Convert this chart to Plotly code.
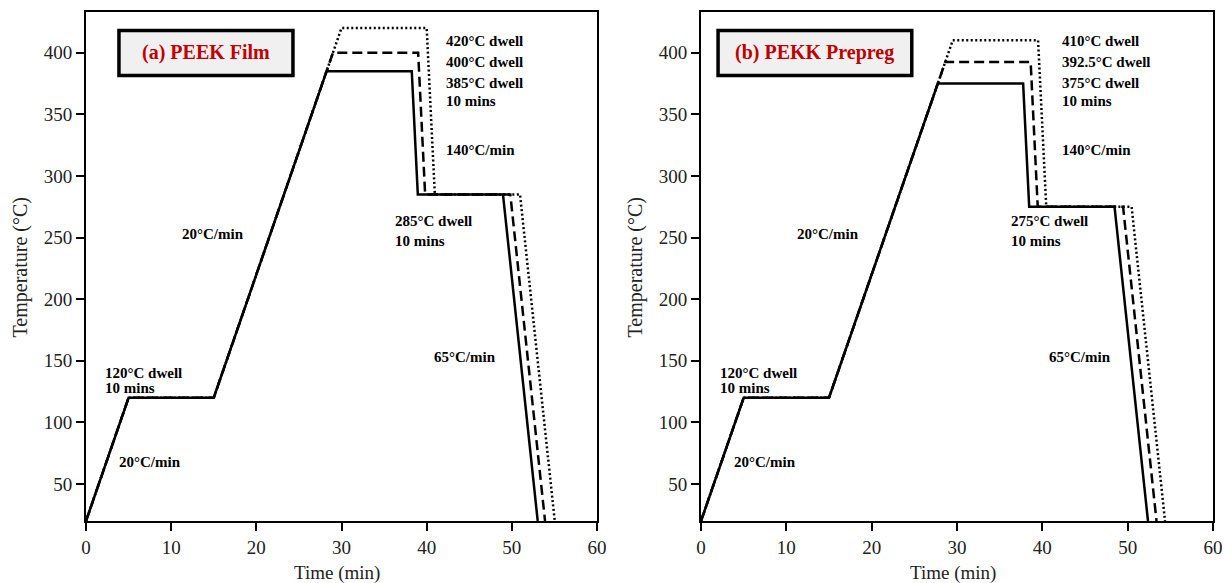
import plotly.graph_objects as go

# ---- Cure cycle profiles: time (min) and temperature (°C) breakpoints ----
# (a) PEEK film
time_peek_385 = [0, 5, 15, 28.25, 38.25, 38.96, 48.96, 53.04]
temp_peek_385 = [20, 120, 120, 385, 385, 285, 285, 20]
time_peek_400 = [0, 5, 15, 29.0, 39.0, 39.82, 49.82, 53.90]
temp_peek_400 = [20, 120, 120, 400, 400, 285, 285, 20]
time_peek_420 = [0, 5, 15, 30.0, 40.0, 40.96, 50.96, 55.04]
temp_peek_420 = [20, 120, 120, 420, 420, 285, 285, 20]

# (b) PEKK prepreg
time_pekk_375 = [0, 5, 15, 27.75, 37.75, 38.46, 48.46, 52.38]
temp_pekk_375 = [20, 120, 120, 375, 375, 275, 275, 20]
time_pekk_392 = [0, 5, 15, 28.63, 38.63, 39.46, 49.46, 53.38]
temp_pekk_392 = [20, 120, 120, 392.5, 392.5, 275, 275, 20]
time_pekk_410 = [0, 5, 15, 29.5, 39.5, 40.46, 50.46, 54.38]
temp_pekk_410 = [20, 120, 120, 410, 410, 275, 275, 20]

x_ticks = [0, 10, 20, 30, 40, 50, 60]
y_ticks = [50, 100, 150, 200, 250, 300, 350, 400]

panel_titles = ["(a) PEEK Film", "(b) PEKK Prepreg"]
dwell_labels_a = ["420°C dwell", "400°C dwell", "385°C dwell", "10 mins"]
dwell_labels_b = ["410°C dwell", "392.5°C dwell", "375°C dwell", "10 mins"]
low_dwell_a = ["285°C dwell", "10 mins"]
low_dwell_b = ["275°C dwell", "10 mins"]

SERIF = "Liberation Serif, Times New Roman, serif"
LW = 2.5

fig = go.Figure()


def add_profiles(xref, yref, series):
    for t, T, dash in series:
        fig.add_trace(go.Scatter(
            x=t, y=T, mode="lines", xaxis=xref, yaxis=yref,
            line=dict(color="black", width=LW, dash=dash),
            showlegend=False, hoverinfo="skip"))


add_profiles("x", "y", [
    (time_peek_420, temp_peek_420, "2px,2.5px"),
    (time_peek_400, temp_peek_400, "10px,5px"),
    (time_peek_385, temp_peek_385, "solid"),
])
add_profiles("x2", "y2", [
    (time_pekk_410, temp_pekk_410, "2px,2.5px"),
    (time_pekk_392, temp_pekk_392, "10px,5px"),
    (time_pekk_375, temp_pekk_375, "solid"),
])

axis_common = dict(
    showline=True, linecolor="black", linewidth=2, mirror=True,
    ticks="outside", ticklen=8, tickwidth=2, tickcolor="black",
    showgrid=False, zeroline=False, automargin=False,
    tickfont=dict(family=SERIF, size=19, color="#222"),
)

fig.update_layout(
    template="none",
    width=1225, height=583,
    margin=dict(l=0, r=0, t=0, b=0),
    paper_bgcolor="white", plot_bgcolor="white",
    xaxis=dict(domain=[86 / 1225, 597 / 1225], range=[0, 60],
               tickvals=x_ticks, anchor="y", **axis_common),
    yaxis=dict(domain=[62 / 583, 571 / 583], range=[20, 433],
               tickvals=y_ticks, anchor="x", **axis_common),
    xaxis2=dict(domain=[701 / 1225, 1213 / 1225], range=[0, 60],
                tickvals=x_ticks, anchor="y2", **axis_common),
    yaxis2=dict(domain=[62 / 583, 571 / 583], range=[20, 433],
                tickvals=y_ticks, anchor="x2", **axis_common),
)

annotations = []


def label(xr, yr, x, y, text, size=15):
    annotations.append(dict(
        x=x, y=y, xref=xr, yref=yr, text="<b>" + text + "</b>",
        showarrow=False, xanchor="left", yanchor="middle",
        font=dict(family=SERIF, size=size, color="black")))


for xr, yr, upper, lower in [("x", "y", dwell_labels_a, low_dwell_a),
                             ("x2", "y2", dwell_labels_b, low_dwell_b)]:
    label(xr, yr, 3.64, 68.2, "20°C/min")
    label(xr, yr, 2.03, 140.0, "120°C dwell")
    label(xr, yr, 2.03, 127.8, "10 mins")
    label(xr, yr, 11.04, 253.0, "20°C/min")
    label(xr, yr, 42.03, 409.2, upper[0])
    label(xr, yr, 42.03, 392.2, upper[1])
    label(xr, yr, 42.03, 375.1, upper[2])
    label(xr, yr, 42.03, 360.5, upper[3])
    label(xr, yr, 42.03, 320.7, "140°C/min")
    label(xr, yr, 36.08, 263.1, lower[0])
    label(xr, yr, 36.08, 247.6, lower[1])
    label(xr, yr, 40.59, 153.4, "65°C/min")

# Panel title boxes
shapes = []
for xr, yr, x0, x1, title in [("x", "y", 3.87, 24.3, panel_titles[0]),
                              ("x2", "y2", 2.0, 24.7, panel_titles[1])]:
    shapes.append(dict(type="rect", xref=xr, yref=yr, x0=x0, x1=x1,
                       y0=381.4, y1=417.9, fillcolor="#f0f0f0",
                       line=dict(color="black", width=3.5), layer="above"))
    annotations.append(dict(
        x=(x0 + x1) / 2, y=400.5, xref=xr, yref=yr,
        text="<b>" + title + "</b>", showarrow=False,
        xanchor="center", yanchor="middle",
        font=dict(family=SERIF, size=20, color="#c00000")))

# Axis titles
for cx in [20 / 1225, (20 + 615) / 1225]:
    annotations.append(dict(
        x=cx, y=1 - 267.5 / 583, xref="paper", yref="paper",
        text="Temperature (°C)", textangle=-90, showarrow=False,
        xanchor="center", yanchor="middle",
        font=dict(family=SERIF, size=20, color="#222")))
for cx in [337.5 / 1225, (337.5 + 615) / 1225]:
    annotations.append(dict(
        x=cx, y=1 - 573 / 583, xref="paper", yref="paper",
        text="Time (min)", showarrow=False,
        xanchor="center", yanchor="middle",
        font=dict(family=SERIF, size=19, color="#222")))

fig.update_layout(annotations=annotations, shapes=shapes)

fig.write_html("out.html")
